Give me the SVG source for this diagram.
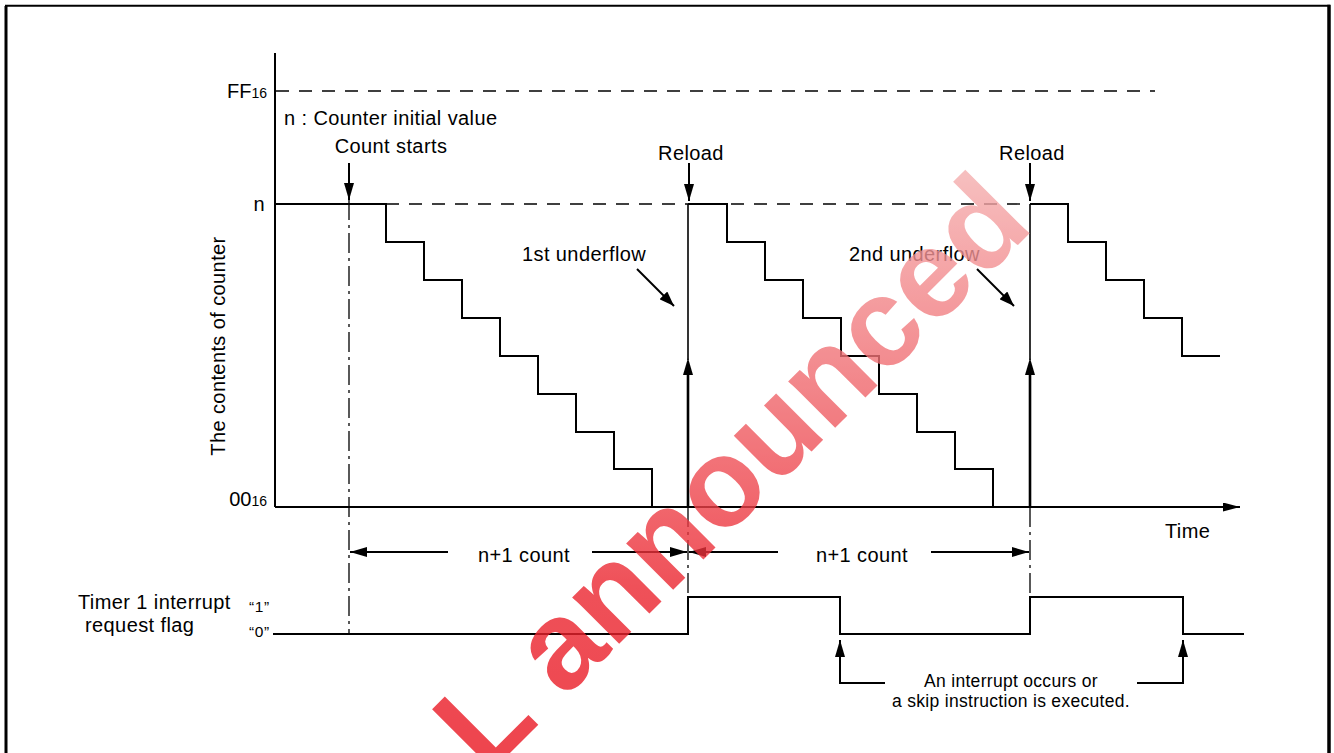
<svg xmlns="http://www.w3.org/2000/svg" width="1334" height="753" viewBox="0 0 1334 753">
<style>
.ln{fill:none;stroke:#000;stroke-width:2}
.thk{fill:none;stroke:#000;stroke-width:2.6}
.thn{fill:none;stroke:#000;stroke-width:1.6}
.dash{fill:none;stroke:#000;stroke-width:1.4;stroke-dasharray:13 10}
.dd{fill:none;stroke:#000;stroke-width:1.3;stroke-dasharray:20 5 3 5}
.t{font-family:"Liberation Sans",Arial,Helvetica,sans-serif;font-size:20px;letter-spacing:0.4px;fill:#000}
.s{font-size:17.5px;letter-spacing:0.3px}
.q{font-size:15.5px;letter-spacing:0.6px}
.wm{font-family:"Liberation Sans",Arial,Helvetica,sans-serif;font-weight:bold;font-size:125px}
</style>
<defs>
<marker id="ah" markerUnits="userSpaceOnUse" markerWidth="17" markerHeight="10" refX="17" refY="5" orient="auto" viewBox="0 0 17 10"><path d="M0,0 L17,5 L0,10 z" fill="#000"/></marker>
<marker id="ahs" markerUnits="userSpaceOnUse" markerWidth="15" markerHeight="11" refX="15" refY="5.5" orient="auto" viewBox="0 0 15 11"><path d="M0,0 L15,5.5 L0,11 z" fill="#000"/></marker>
<marker id="aht" markerUnits="userSpaceOnUse" markerWidth="17" markerHeight="9" refX="17" refY="4.5" orient="auto" viewBox="0 0 17 9"><path d="M0,0 L17,4.5 L0,9 z" fill="#000"/></marker>
<linearGradient id="wmg" gradientUnits="userSpaceOnUse" x1="480" y1="760" x2="1040" y2="170">
<stop offset="0" stop-color="#e8000e"/>
<stop offset="0.5" stop-color="#ec2630"/>
<stop offset="1" stop-color="#f5b0b0"/>
</linearGradient>
</defs>
<rect width="1334" height="753" fill="#fff"/>
<g id="frame">
<path d="M6,753 V6" fill="none" stroke="#000" stroke-width="3"/>
<path d="M5,5.7 H1330" fill="none" stroke="#000" stroke-width="2"/>
<path d="M1329,4.7 V753" fill="none" stroke="#000" stroke-width="3.5"/>
</g>
<g id="axes">
<path class="ln" d="M275,53 V507"/>
<path class="ln" d="M275,507 H1240" marker-end="url(#aht)"/>
<path class="dash" d="M276,91 H1155"/>
<path class="dash" d="M386,204 H1030"/>
</g>
<g id="counter">
<path class="ln" d="M275,204 H386 V242 H424 V280 H462 V318 H500 V356 H538 V394 H576 V432 H614 V469 H652 V507"/>
<path class="ln" d="M688,204 H727 V242 H765 V280 H803 V318 H841 V356 H879 V394 H917 V432 H955 V469 H993 V507"/>
<path class="ln" d="M1030,204 H1068 V242 H1106 V280 H1144 V318 H1182 V356 H1220"/>
</g>
<g id="reload1">
<path class="thk" d="M688,507 V374"/>
<path d="M688,358 L683,375 L693,375 z" fill="#000"/>
<path class="thn" d="M688,360 V204"/>
</g>
<g id="reload2">
<path class="thk" d="M1030,507 V374"/>
<path d="M1030,358 L1025,375 L1035,375 z" fill="#000"/>
<path class="thn" d="M1030,360 V204"/>
</g>
<g id="flag">
<path class="ln" d="M273,634 H688 V597 H840 V634 H1030 V597 H1183 V634 H1244"/>
</g>
<g id="connectors">
<path class="dd" d="M349,200 V634"/>
<path class="dd" d="M688,507 V597"/>
<path class="dd" d="M1030,507 V597"/>
<path class="ln" d="M349,163 V200" marker-end="url(#ah)"/>
<path class="ln" d="M689,163 V201" marker-end="url(#ah)"/>
<path class="ln" d="M1030,163 V201" marker-end="url(#ah)"/>
<path class="ln" d="M637,269 L674,306" marker-end="url(#ahs)"/>
<path class="ln" d="M977,269 L1014,306" marker-end="url(#ahs)"/>
<path class="ln" d="M448,552 H350" marker-end="url(#ah)"/>
<path class="ln" d="M592,552 H687" marker-end="url(#ah)"/>
<path class="ln" d="M778,552 H689" marker-end="url(#ah)"/>
<path class="ln" d="M931,552 H1029" marker-end="url(#ah)"/>
<path class="ln" d="M885,683 H840 V640" marker-end="url(#ah)"/>
<path class="ln" d="M1137,683 H1183 V640" marker-end="url(#ah)"/>
</g>
<g id="labels">
<text class="t" x="267" y="98" text-anchor="end" style="letter-spacing:0">FF<tspan font-size="14">16</tspan></text>
<text class="t" x="267" y="506" text-anchor="end" style="letter-spacing:0">00<tspan font-size="14">16</tspan></text>
<text class="t" x="265" y="211" text-anchor="end">n</text>
<text class="t" x="284" y="125">n : Counter initial value</text>
<text class="t" x="391" y="153" text-anchor="middle">Count starts</text>
<text class="t" x="691" y="160" text-anchor="middle">Reload</text>
<text class="t" x="1032" y="160" text-anchor="middle">Reload</text>
<text class="t" x="522" y="261">1st underflow</text>
<text class="t" x="849" y="261">2nd underflow</text>
<text class="t" x="1165" y="538">Time</text>
<text class="t" transform="translate(225,346) rotate(-90)" text-anchor="middle">The contents of counter</text>
<text class="t" x="524" y="562" text-anchor="middle">n+1 count</text>
<text class="t" x="862" y="562" text-anchor="middle">n+1 count</text>
<text class="t" x="78" y="609">Timer 1 interrupt</text>
<text class="t" x="85" y="632">request flag</text>
<text class="t q" x="249" y="612">“1”</text>
<text class="t q" x="249" y="637">“0”</text>
<text class="t s" x="1011" y="687" text-anchor="middle">An interrupt occurs or</text>
<text class="t s" x="1011" y="707" text-anchor="middle">a skip instruction is executed.</text>
</g>
<g id="watermark" opacity="0.8">
<text class="wm" transform="translate(487,776) rotate(-45)" fill="url(#wmg)">L announced</text>
</g>
</svg>
